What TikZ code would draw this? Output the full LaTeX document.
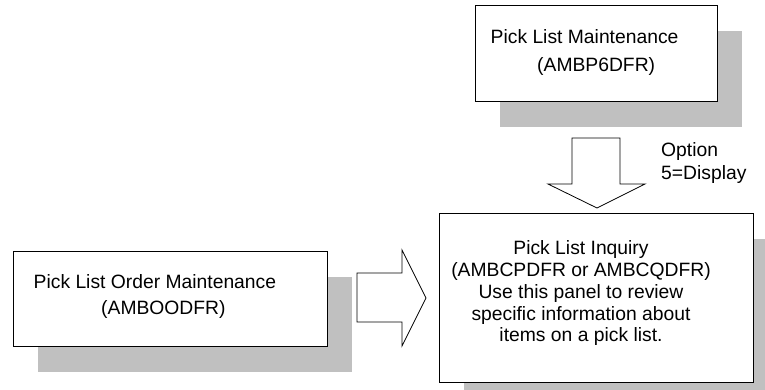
\documentclass[tikz,border=0pt]{standalone}
\usepackage{fontspec}
\setmainfont{Liberation Sans}
\usetikzlibrary{shadows}
\definecolor{shadowgray}{HTML}{C0C0C0}
\begin{document}
\begin{tikzpicture}[x=1pt,y=-1pt,
  panel/.style={draw=black, line width=1pt, fill=white, rectangle, inner sep=0pt, anchor=north west,
    drop shadow={shadow xshift=24pt, shadow yshift=-25pt, fill=shadowgray, draw=none, opacity=1}},
  txt/.style={font=\fontsize{19.3}{22}\selectfont, inner sep=0pt},
  blockarrow/.style={draw=black, line width=0.8pt, fill=white, line join=miter}]
\useasboundingbox (0,0) rectangle (765,389);
% panels
\node[panel, minimum width=242pt, minimum height=96pt] (pm) at (475,5) {};
\node[panel, minimum width=314pt, minimum height=95pt] (pom) at (13,251) {};
\node[panel, minimum width=314pt, minimum height=169pt] (pi) at (439,213) {};
% texts
\node[txt, anchor=base west] (pm1) at (490.5,43.5) {Pick List Maintenance};
\node[txt, anchor=base west] (pm2) at (537,71.5) {(AMBP6DFR)};
\node[txt, anchor=base west] (pom1) at (33.5,288.5) {Pick List Order Maintenance};
\node[txt, anchor=base west] (pom2) at (101,314.5) {(AMBOODFR)};
\node[txt, anchor=base] (pi1) at (581,254.5) {Pick List Inquiry};
\node[txt, anchor=base] (pi2) at (581,276.5) {(AMBCPDFR or AMBCQDFR)};
\node[txt, anchor=base] (pi3) at (581,298.5) {Use this panel to review};
\node[txt, anchor=base] (pi4) at (581,320) {specific information about};
\node[txt, anchor=base] (pi5) at (581,341.5) {items on a pick list.};
\node[txt, anchor=base west] (opt1) at (661,156.5) {Option};
\node[txt, anchor=base west] (opt2) at (661,179.5) {5=Display};
% block arrows
\coordinate (dtip) at (597,208);
\coordinate (rtip) at (426,298);
\draw[blockarrow] (dtip) -- ++(-49,-24) -- ++(24,0) -- ++(0,-46) -- ++(48,0) -- ++(0,46) -- ++(25,0) -- cycle;
\draw[blockarrow] (rtip) -- ++(-24,-48) -- ++(0,23) -- ++(-45,0) -- ++(0,49) -- ++(45,0) -- ++(0,24) -- cycle;
\end{tikzpicture}
\end{document}
